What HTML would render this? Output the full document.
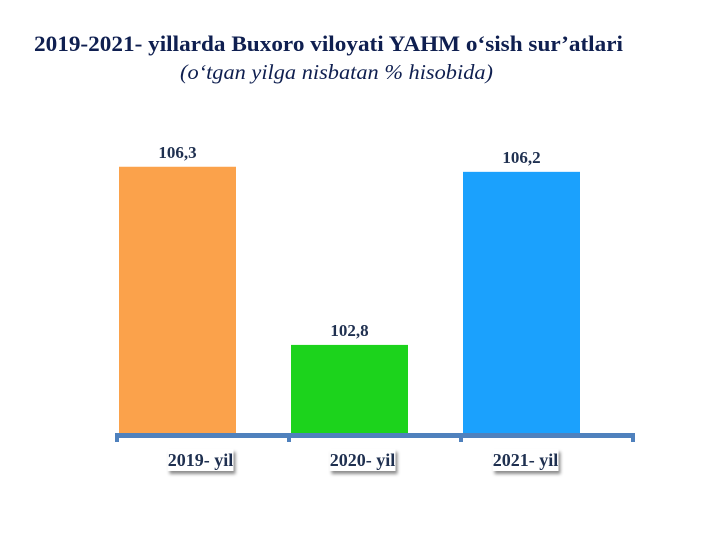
<!DOCTYPE html>
<html><head><meta charset="utf-8"><style>
body{margin:0;background:#fff;width:708px;height:544px;overflow:hidden;font-family:"Liberation Serif",serif}
</style></head><body>
<svg width="708" height="544">
<defs><filter id="sh" x="-20%" y="-20%" width="150%" height="160%"><feDropShadow dx="2" dy="3" stdDeviation="1.5" flood-color="#000" flood-opacity="0.45"/></filter></defs>
<text x="34" y="51" font-size="22" font-weight="bold" fill="#0f1f50" textLength="589" lengthAdjust="spacingAndGlyphs">2019-2021- yillarda Buxoro viloyati YAHM o‘sish sur’atlari</text>
<text x="180" y="79" font-size="21" font-style="italic" fill="#0f1f50" textLength="313" lengthAdjust="spacingAndGlyphs">(o‘tgan yilga nisbatan % hisobida)</text>
<g id="bars"></g>
<g id="axis"></g>
</svg>
<script>
const categories=["2019- yil","2020- yil","2021- yil"];
const values=[106.3,102.8,106.2];
const colors=["#fba24b","#1cd31c","#1ba1fd"];
const labels=["106,3","102,8","106,2"];
const labelShift=[23,13,4];
const yMin=101.03, pxPerUnit=50.9, baseY=435;
function y(v){return baseY-(v-yMin)*pxPerUnit;}
const bandStart=117, band=172, barW=117, barOff=2;
function xb(i){return bandStart+i*band+barOff;}
const ns="http://www.w3.org/2000/svg";
const g=document.getElementById('bars');
values.forEach((v,i)=>{
 const r=document.createElementNS(ns,'rect');
 r.setAttribute('x',xb(i));r.setAttribute('y',y(v));r.setAttribute('width',barW);r.setAttribute('height',baseY-y(v));r.setAttribute('fill',colors[i]);
 
 
 g.appendChild(r);
 const t=document.createElementNS(ns,'text');
 t.setAttribute('x',xb(i)+barW/2);t.setAttribute('y',y(v)-9);t.setAttribute('text-anchor','middle');t.setAttribute('font-size','17');t.setAttribute('font-weight','bold');t.setAttribute('fill','#1f3050');
 t.textContent=labels[i];
 
 
 g.appendChild(t);
 const cx=xb(i)+barW/2+labelShift[i];
 const bx=document.createElementNS(ns,'rect');
 bx.setAttribute('x',cx-33);bx.setAttribute('y',449);bx.setAttribute('width',66);bx.setAttribute('height',22);bx.setAttribute('fill','#fff');bx.setAttribute('filter','url(#sh)');
 
 
 g.appendChild(bx);
 const c=document.createElementNS(ns,'text');
 c.setAttribute('x',cx);c.setAttribute('y',466);c.setAttribute('text-anchor','middle');c.setAttribute('font-size','18');c.setAttribute('font-weight','bold');c.setAttribute('fill','#1f3050');
 c.textContent=categories[i];
 
 
 g.appendChild(c);
});
const a=document.getElementById('axis');
const ln=document.createElementNS(ns,'rect');
ln.setAttribute('x',bandStart);ln.setAttribute('y',baseY-2);ln.setAttribute('width',band*3);ln.setAttribute('height',5);ln.setAttribute('fill','#4f81bd');


a.appendChild(ln);
for(let i=0;i<=3;i++){
 const tk=document.createElementNS(ns,'rect');
 tk.setAttribute('x',bandStart+i*band-2);tk.setAttribute('y',baseY-2);tk.setAttribute('width',4);tk.setAttribute('height',9);tk.setAttribute('fill','#4f81bd');
 
 
 a.appendChild(tk);
}
</script>
</body></html>
